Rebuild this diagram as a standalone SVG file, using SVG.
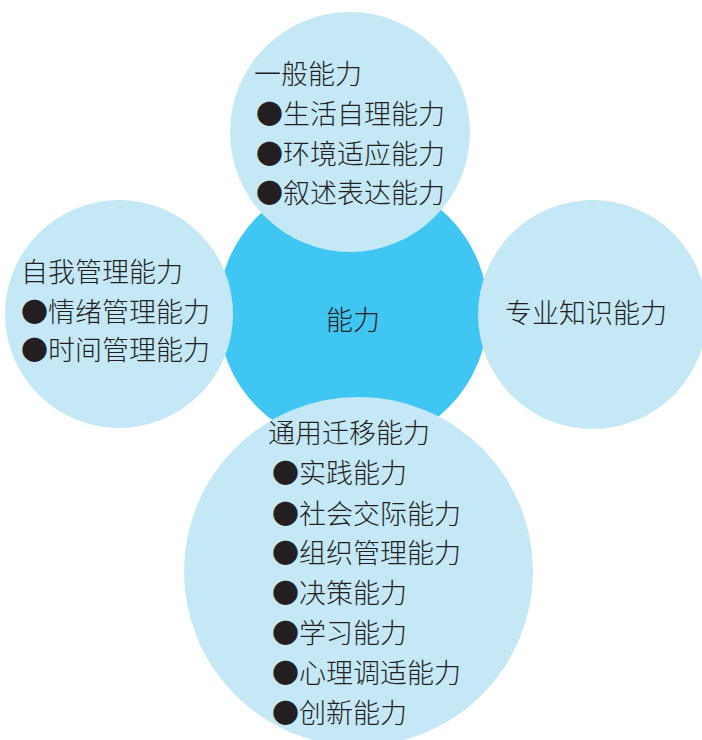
<svg xmlns="http://www.w3.org/2000/svg" width="702" height="740" viewBox="0 0 702 740">
<style>
.light{fill:#C5E8F7}
.dark{fill:#40C6F2}
text{font-family:"Noto Sans CJK SC","Noto Sans",sans-serif;font-size:27px;fill:#231F20;font-weight:300}
</style>
<rect width="702" height="740" fill="#FFFFFF"/>
<g id="connectors"></g>
<g id="center">
<circle class="dark" cx="353" cy="312" r="135"/>
<text x="326" y="330">能力</text>
</g>
<g id="top">
<circle class="light" cx="350" cy="132" r="120"/>
<text x="254" y="84">一般能力</text>
<text x="256" y="124">●生活自理能力</text>
<text x="256" y="164">●环境适应能力</text>
<text x="256" y="203">●叙述表达能力</text>
</g>
<g id="left">
<circle class="light" cx="119" cy="314" r="114"/>
<text x="21" y="282">自我管理能力</text>
<text x="21" y="322">●情绪管理能力</text>
<text x="21" y="360">●时间管理能力</text>
</g>
<g id="right">
<circle class="light" cx="592.5" cy="314.5" r="114.5"/>
<text x="505" y="323">专业知识能力</text>
</g>
<g id="bottom">
<circle class="light" cx="358.5" cy="571.5" r="174.5"/>
<text x="268" y="443">通用迁移能力</text>
<text x="272" y="483">●实践能力</text>
<text x="272" y="524">●社会交际能力</text>
<text x="272" y="563">●组织管理能力</text>
<text x="272" y="603">●决策能力</text>
<text x="272" y="643">●学习能力</text>
<text x="272" y="683">●心理调适能力</text>
<text x="272" y="723">●创新能力</text>
</g>
</svg>
